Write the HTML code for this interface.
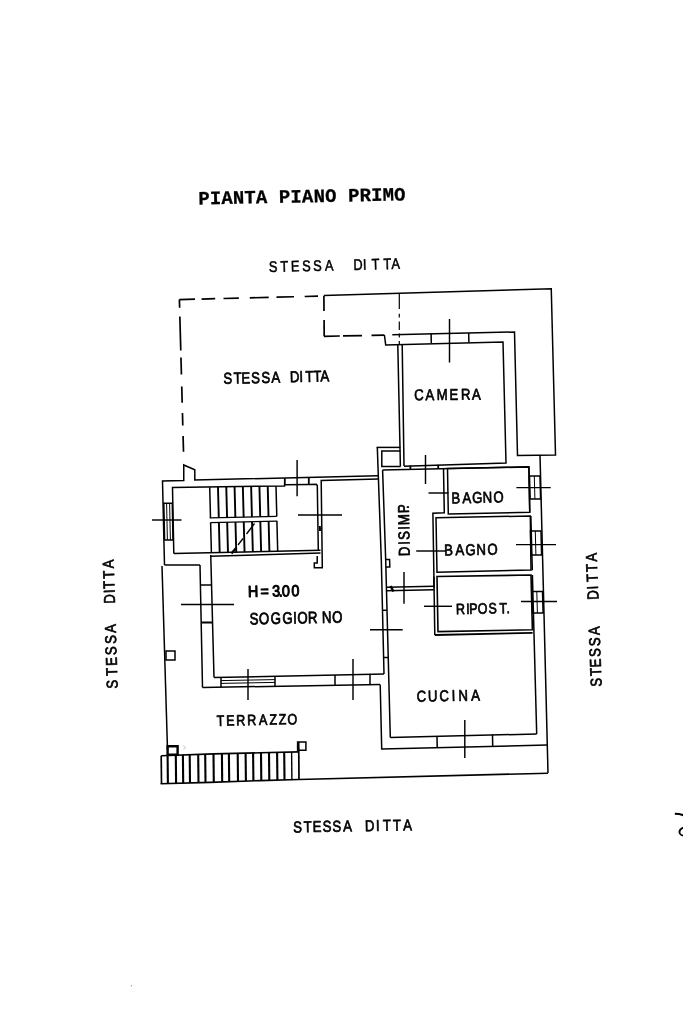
<!DOCTYPE html>
<html lang="it">
<head>
<meta charset="utf-8">
<title>Pianta Piano Primo</title>
<style>
html,body{margin:0;padding:0;background:#fff;}
body{width:683px;height:1024px;overflow:hidden;}
svg{display:block;}
svg text{fill:#000;text-rendering:geometricPrecision;}
svg{will-change:transform;}
</style>
</head>
<body>
<svg width="683" height="1024" viewBox="0 0 683 1024">
<rect width="683" height="1024" fill="#fff"/>
<g stroke="#000" fill="none" stroke-linecap="butt">
<line x1="179.4" y1="299.6" x2="195" y2="299.211" stroke-width="1.7"/>
<line x1="201.6" y1="299.046" x2="215.2" y2="298.707" stroke-width="1.7"/>
<line x1="223.5" y1="298.5" x2="238.8" y2="298.119" stroke-width="1.7"/>
<line x1="249.8" y1="297.844" x2="268.7" y2="297.373" stroke-width="1.7"/>
<line x1="276.5" y1="297.178" x2="294" y2="296.742" stroke-width="1.7"/>
<line x1="304.7" y1="296.475" x2="318" y2="296.143" stroke-width="1.7"/>
<line x1="179.4" y1="299.6" x2="179.621" y2="307.8" stroke-width="1.7"/>
<line x1="179.853" y1="316.4" x2="180.772" y2="350.5" stroke-width="1.7"/>
<line x1="180.961" y1="357.5" x2="181.422" y2="374.6" stroke-width="1.7"/>
<line x1="181.742" y1="386.5" x2="182.179" y2="402.7" stroke-width="1.7"/>
<line x1="182.457" y1="413" x2="182.794" y2="425.5" stroke-width="1.7"/>
<line x1="183.077" y1="436" x2="183.5" y2="451.7" stroke-width="1.7"/>
<line x1="323.9" y1="296" x2="324.012" y2="311" stroke-width="1.7"/>
<line x1="324.079" y1="320" x2="324.2" y2="336.2" stroke-width="1.7"/>
<line x1="324" y1="336.3" x2="339.8" y2="336.012" stroke-width="1.7"/>
<line x1="343" y1="335.954" x2="362" y2="335.608" stroke-width="1.7"/>
<line x1="371.5" y1="335.435" x2="384.4" y2="335.2" stroke-width="1.7"/>
<line x1="399.3" y1="294" x2="399.3" y2="309" stroke-width="1.2"/>
<line x1="399.3" y1="313.8" x2="399.3" y2="317.4" stroke-width="1.2"/>
<line x1="399.3" y1="321.5" x2="399.3" y2="330" stroke-width="1.2"/>
<line x1="399.3" y1="333.5" x2="399.3" y2="337.5" stroke-width="1.2"/>
<line x1="399.3" y1="341" x2="399.3" y2="345" stroke-width="1.2"/>
<path d="M323.75 295.5 L551.25 288.75 L555.5 455 L517.5 455.5 L514.5 332 L392.3 334.8" stroke-width="1.5" fill="none"/>
<path d="M384.4 335 L385.7 345 L503 342 L506 463 L404 466.3" stroke-width="1.5" fill="none"/>
<line x1="397.8" y1="345" x2="400.4" y2="466.5" stroke-width="1.5"/>
<line x1="402.2" y1="345" x2="404" y2="466" stroke-width="1.5"/>
<line x1="431.1" y1="333.5" x2="431.3" y2="343" stroke-width="1.5"/>
<line x1="468.7" y1="333" x2="468.9" y2="342.5" stroke-width="1.5"/>
<line x1="449.5" y1="319" x2="449.5" y2="362.5" stroke-width="1.45"/>
<line x1="376.7" y1="447.4" x2="400.3" y2="447.4" stroke-width="1.5"/>
<path d="M400.3 451.1 L381.8 451.1 L381.8 466.5 L400.5 466.5" stroke-width="1.5" fill="none"/>
<line x1="410.4" y1="465.5" x2="410.4" y2="469.5" stroke-width="1.8"/>
<line x1="438.2" y1="464.8" x2="438.2" y2="468.6" stroke-width="1.8"/>
<line x1="540" y1="455" x2="548" y2="773" stroke-width="1.5"/>
<line x1="528.9" y1="467" x2="529.8" y2="512.5" stroke-width="1.5"/>
<line x1="530.8" y1="516" x2="532.3" y2="570.2" stroke-width="1.5"/>
<line x1="532.4" y1="575" x2="536.7" y2="734" stroke-width="1.5"/>
<path d="M160.6 783.8 L210 782.4 L260 780.6 L298.7 779.5 L548 773.2" stroke-width="1.6" fill="none"/>
<path d="M390.3 737.6 L536.7 733.9" stroke-width="1.5" fill="none"/>
<path d="M380.2 684.4 L381.7 748.9 L547.3 745" stroke-width="1.5" fill="none"/>
<line x1="437" y1="736.3" x2="437.2" y2="747.3" stroke-width="1.5"/>
<line x1="492.5" y1="734.8" x2="492.7" y2="745.9" stroke-width="1.5"/>
<line x1="464.8" y1="720" x2="464.8" y2="758" stroke-width="1.45"/>
<line x1="200" y1="565" x2="202.5" y2="687.5" stroke-width="1.5"/>
<line x1="210.75" y1="555" x2="214" y2="677.5" stroke-width="1.5"/>
<line x1="200.4" y1="585" x2="211.4" y2="585" stroke-width="1.5"/>
<line x1="201.2" y1="622.5" x2="212.4" y2="622.5" stroke-width="2"/>
<line x1="181" y1="604.5" x2="234" y2="604.5" stroke-width="1.45"/>
<line x1="214" y1="677.5" x2="384" y2="674" stroke-width="1.5"/>
<line x1="202.5" y1="687.5" x2="380" y2="684.5" stroke-width="1.5"/>
<line x1="221" y1="677.4" x2="221" y2="687.2" stroke-width="1.5"/>
<line x1="275" y1="676.3" x2="275" y2="686.2" stroke-width="1.5"/>
<line x1="221" y1="680.6" x2="275" y2="679.6" stroke-width="1"/>
<line x1="221" y1="683.4" x2="275" y2="682.4" stroke-width="1"/>
<line x1="248" y1="669" x2="248" y2="700" stroke-width="1.45"/>
<line x1="335" y1="675" x2="335" y2="685.3" stroke-width="1.5"/>
<line x1="370" y1="674.3" x2="370" y2="684.6" stroke-width="1.5"/>
<line x1="353" y1="659" x2="353" y2="700" stroke-width="1.45"/>
<path d="M377.3 447 L381.3 560 L384 674" stroke-width="1.5" fill="none"/>
<path d="M382.6 470.1 L385.7 560 L388.3 660 L390.3 737.4" stroke-width="1.5" fill="none"/>
<line x1="382.5" y1="610.3" x2="387" y2="610.3" stroke-width="1.5"/>
<line x1="383.6" y1="657.5" x2="388.2" y2="657.5" stroke-width="1.5"/>
<line x1="370" y1="629.7" x2="402.7" y2="629.7" stroke-width="1.45"/>
<path d="M164.5 565 L162.5 481 L183.75 480.5 L183.75 465 L194.8 469.8 L194.8 480 L378 475.8" stroke-width="1.5" fill="none"/>
<path d="M173.8 553.6 L172.5 487.5 L284.6 485.9 L284.6 484.8 L309 484.4 L316.2 484.2 L317.3 485.5 L318.3 550.3" stroke-width="1.5" fill="none"/>
<line x1="173.8" y1="553.6" x2="320.5" y2="550.3" stroke-width="1.5"/>
<line x1="210" y1="556.3" x2="320.5" y2="552.9" stroke-width="1.5"/>
<line x1="164.5" y1="565" x2="200" y2="565" stroke-width="1.5"/>
<path d="M378.3 478.9 L321.2 480.6 L322.3 567.8 L314.3 567.8 L314.3 563 L317.2 563 L317.2 556" stroke-width="1.5" fill="none"/>
<line x1="319.8" y1="526" x2="320" y2="531" stroke-width="2"/>
<line x1="209.7" y1="487.2" x2="210.5" y2="517.9" stroke-width="1.5"/>
<line x1="210.6" y1="522.6" x2="211.4" y2="553" stroke-width="1.5"/>
<line x1="217.987" y1="487.067" x2="218.787" y2="517.718" stroke-width="1.9"/>
<line x1="218.887" y1="522.418" x2="219.687" y2="552.801" stroke-width="1.9"/>
<line x1="226.275" y1="486.935" x2="227.075" y2="517.535" stroke-width="1.9"/>
<line x1="227.175" y1="522.235" x2="227.975" y2="552.602" stroke-width="1.9"/>
<line x1="234.562" y1="486.802" x2="235.363" y2="517.353" stroke-width="1.9"/>
<line x1="235.463" y1="522.053" x2="236.262" y2="552.403" stroke-width="1.9"/>
<line x1="242.85" y1="486.67" x2="243.65" y2="517.171" stroke-width="1.9"/>
<line x1="243.75" y1="521.871" x2="244.55" y2="552.204" stroke-width="1.9"/>
<line x1="251.137" y1="486.537" x2="251.938" y2="516.988" stroke-width="1.9"/>
<line x1="252.037" y1="521.688" x2="252.837" y2="552.005" stroke-width="1.9"/>
<line x1="259.425" y1="486.404" x2="260.225" y2="516.806" stroke-width="1.9"/>
<line x1="260.325" y1="521.506" x2="261.125" y2="551.807" stroke-width="1.9"/>
<line x1="267.712" y1="486.272" x2="268.512" y2="516.624" stroke-width="1.9"/>
<line x1="268.612" y1="521.324" x2="269.412" y2="551.608" stroke-width="1.9"/>
<line x1="276" y1="486.139" x2="276.8" y2="516.441" stroke-width="1.5"/>
<line x1="276.9" y1="521.141" x2="277.7" y2="551.409" stroke-width="1.5"/>
<line x1="209.7" y1="517.9" x2="276.6" y2="516.4" stroke-width="1.4"/>
<line x1="210.5" y1="522.6" x2="277.3" y2="521.1" stroke-width="1.4"/>
<line x1="231.5" y1="553.5" x2="236" y2="548" stroke-width="2.2"/>
<line x1="238" y1="545" x2="243" y2="538.5" stroke-width="1.3"/>
<line x1="246.5" y1="534" x2="254.5" y2="523.5" stroke-width="1.3"/>
<path d="M163.8 503.3 L172.3 503.3 L173 540 L164.6 540 Z" stroke-width="1.5" fill="none"/>
<line x1="166.6" y1="503.3" x2="167.4" y2="540" stroke-width="1"/>
<line x1="169.6" y1="503.3" x2="170.4" y2="540" stroke-width="1"/>
<line x1="152" y1="520" x2="181.5" y2="520" stroke-width="1.45"/>
<line x1="284.8" y1="478" x2="284.8" y2="485" stroke-width="1.8"/>
<line x1="308.8" y1="477.5" x2="308.8" y2="484.4" stroke-width="1.8"/>
<line x1="297.1" y1="460" x2="297.1" y2="496.3" stroke-width="1.45"/>
<line x1="298" y1="515" x2="342" y2="515" stroke-width="1.45"/>
<line x1="382.6" y1="470.1" x2="529.5" y2="466.8" stroke-width="1.5"/>
<path d="M443.5 468.5 L444.3 512.8 L432.9 513.2 L434.1 588" stroke-width="1.5" fill="none"/>
<line x1="386.5" y1="587.3" x2="434" y2="586.3" stroke-width="1.6"/>
<line x1="386.5" y1="590.8" x2="434" y2="589.8" stroke-width="1.6"/>
<line x1="390.5" y1="586" x2="393.5" y2="591.5" stroke-width="2.5"/>
<path d="M385.6 559.5 L389.6 559.5 L389.8 567 L385.9 567" stroke-width="1.5" fill="none"/>
<path d="M447.5 468.5 L528.9 467 L529.7 512.2 L448.3 514 Z" stroke-width="1.5" fill="none"/>
<path d="M436 517.7 L530.3 516 L531 570 L437 572.3 Z" stroke-width="1.5" fill="none"/>
<path d="M437 576.5 L531 575 L532.4 629.8 L438 631.6 Z" stroke-width="1.6" fill="none"/>
<line x1="433.9" y1="576.5" x2="434.8" y2="635" stroke-width="1.5"/>
<line x1="434.8" y1="635" x2="532.6" y2="632.9" stroke-width="1.8"/>
<path d="M529.5 476 L540 476 L540.6 499 L530.1 499 Z" stroke-width="1.5" fill="none"/>
<line x1="534.3" y1="476" x2="534.9" y2="499" stroke-width="1"/>
<path d="M530.5 531 L541 531 L541.6 555 L531.1 555 Z" stroke-width="1.5" fill="none"/>
<line x1="535.3" y1="531" x2="535.9" y2="555" stroke-width="1"/>
<path d="M532 591.5 L542.5 591.5 L543.1 613 L532.6 613 Z" stroke-width="1.5" fill="none"/>
<line x1="536.8" y1="591.5" x2="537.4" y2="613" stroke-width="1"/>
<line x1="516.4" y1="487.6" x2="550.7" y2="487.6" stroke-width="1.45"/>
<line x1="516" y1="544.6" x2="556" y2="544.6" stroke-width="1.45"/>
<line x1="521" y1="601.4" x2="557" y2="601.4" stroke-width="1.45"/>
<line x1="425.5" y1="455" x2="425.5" y2="484" stroke-width="1.45"/>
<line x1="428.5" y1="493" x2="448.5" y2="493" stroke-width="1.45"/>
<line x1="416.2" y1="551" x2="446" y2="551" stroke-width="1.45"/>
<line x1="404" y1="572" x2="404" y2="603.7" stroke-width="1.45"/>
<line x1="424" y1="606.3" x2="452" y2="606.3" stroke-width="1.45"/>
<line x1="162" y1="566" x2="167.5" y2="750" stroke-width="1.5"/>
<path d="M166 651 L175 651 L175 660 L166 660 Z" stroke-width="1.5" fill="none"/>
<path d="M167.6 746.2 L177.6 746.2 L177.6 754.8 L167.6 754.8 Z" stroke-width="2.4" fill="none"/>
<path d="M297.6 742.1 L305.9 742.1 L305.9 750.2 L297.6 750.2 Z" stroke-width="1.5" fill="none"/>
<line x1="161.2" y1="755.7" x2="161.5" y2="783.8" stroke-width="1.7"/>
<line x1="167.6" y1="755.48" x2="167.9" y2="783.616" stroke-width="2.1"/>
<line x1="175.8" y1="755.198" x2="176.1" y2="783.381" stroke-width="2.1"/>
<line x1="182.9" y1="754.953" x2="183.2" y2="783.177" stroke-width="2.1"/>
<line x1="189.7" y1="754.719" x2="190" y2="782.982" stroke-width="2.1"/>
<line x1="198.2" y1="754.427" x2="198.5" y2="782.739" stroke-width="2.1"/>
<line x1="205.2" y1="754.186" x2="205.5" y2="782.538" stroke-width="2.1"/>
<line x1="213.5" y1="753.9" x2="213.8" y2="782.274" stroke-width="2.1"/>
<line x1="221.9" y1="753.701" x2="222.2" y2="781.972" stroke-width="2.1"/>
<line x1="228.9" y1="753.536" x2="229.2" y2="781.72" stroke-width="2.1"/>
<line x1="237.7" y1="753.328" x2="238" y2="781.403" stroke-width="2.1"/>
<line x1="245.6" y1="753.141" x2="245.9" y2="781.118" stroke-width="2.1"/>
<line x1="253.1" y1="752.963" x2="253.4" y2="780.848" stroke-width="2.1"/>
<line x1="261" y1="752.777" x2="261.3" y2="780.572" stroke-width="2.1"/>
<line x1="269" y1="752.591" x2="269.3" y2="780.344" stroke-width="2.1"/>
<line x1="277.1" y1="752.402" x2="277.4" y2="780.114" stroke-width="2.1"/>
<line x1="284.2" y1="752.237" x2="284.5" y2="779.912" stroke-width="2.1"/>
<line x1="291.6" y1="752.065" x2="291.9" y2="779.702" stroke-width="1.4"/>
<line x1="298.7" y1="742" x2="299" y2="779.5" stroke-width="1.7"/>
<path d="M161.2 755.7 L213.5 753.9 L260 752.8 L298.7 751.9" stroke-width="1.6" fill="none"/>
<path d="M183.3 745.6 L185.6 747.5 L183.7 749.6" stroke="#9a9a9a" stroke-width="0.6"/>
<path d="M674.8 813.7 Q679.5 813.7 683.5 815.3" stroke-width="2"/>
<path d="M683.5 827.6 Q678.3 830 679.8 833.3 Q680.8 835.3 683.5 835.8" stroke-width="1.8"/>
<circle cx="131.5" cy="985.7" r="0.7" fill="#999" stroke="none"/>
</g>
<g>
<text transform="translate(198.4 204.4) rotate(-1.1)" font-family='"Liberation Mono", monospace' font-size="18.9" font-weight="bold" textLength="207.3" lengthAdjust="spacing" stroke="#000" stroke-width="0.3" stroke-linejoin="round">PIANTA PIANO PRIMO</text>
<text transform="translate(273.3 272) rotate(-1.4) scale(0.84 1)" x="-5.10 8.55 21.04 34.55 47.65 61.70 71.91 95.56 106.95 117.16 131.21 140.77" y="0" font-family='"Liberation Sans", sans-serif' font-size="15.3" stroke="#000" stroke-width="0.5" stroke-linejoin="round">STESSA DITTA</text>
<text transform="translate(227.9 383.7) rotate(-1.3) scale(0.84 1)" x="-5.24 6.88 16.25 27.75 40.01 52.04 62.51 73.97 85.22 92.38 101.91 110.27" y="0" font-family='"Liberation Sans", sans-serif' font-size="15.7" stroke="#000" stroke-width="0.7" stroke-linejoin="round">STESSA DITTA</text>
<text transform="translate(419 400.3) rotate(-0.7) scale(0.84 1)" x="-5.77 7.74 21.08 36.37 49.90 63.22" y="0" font-family='"Liberation Sans", sans-serif' font-size="15.7" stroke="#000" stroke-width="0.7" stroke-linejoin="round">CAMERA</text>
<text transform="translate(456.2 503.3) rotate(-1.2) scale(0.84 1)" x="-5.46 7.50 19.09 31.48 44.39" y="0" font-family='"Liberation Sans", sans-serif' font-size="15.7" stroke="#000" stroke-width="0.7" stroke-linejoin="round">BAGNO</text>
<text transform="translate(448.8 555.5) rotate(-1.2) scale(0.84 1)" x="-5.46 7.98 19.93 33.02 45.94" y="0" font-family='"Liberation Sans", sans-serif' font-size="15.7" stroke="#000" stroke-width="0.7" stroke-linejoin="round">BAGNO</text>
<text transform="translate(409.7 551) rotate(-91.2) scale(0.84 1)" x="-5.93 7.58 13.46 25.20 30.97 45.26 49.97" y="0" font-family='"Liberation Sans", sans-serif' font-size="15.7" stroke="#000" stroke-width="0.7" stroke-linejoin="round">DISIMP.</text>
<text transform="translate(460.7 614.2) rotate(-1.2) scale(0.84 1)" x="-5.68 6.49 10.26 20.25 33.22 46.15 54.59" y="0" font-family='"Liberation Sans", sans-serif' font-size="15" stroke="#000" stroke-width="0.7" stroke-linejoin="round">RIPOST.</text>
<text transform="translate(253.2 597) rotate(-1.2) scale(0.9 1)" x="-5.78 8.22 21.05 28.34 32.12 42.67" y="0" font-family='"Liberation Sans", sans-serif' font-size="16" stroke="#000" stroke-width="1" stroke-linejoin="round">H=3.00</text>
<text transform="translate(254.2 624.3) rotate(-1.2) scale(0.8 1)" x="-5.50 6.09 20.67 35.30 48.97 54.10 67.40 84.93 97.49" y="0" font-family='"Liberation Sans", sans-serif' font-size="16.5" stroke="#000" stroke-width="0.8" stroke-linejoin="round">SOGGIORNO</text>
<text transform="translate(421.7 701.7) rotate(-1.2) scale(0.84 1)" x="-5.77 7.55 21.14 35.80 43.86 58.94" y="0" font-family='"Liberation Sans", sans-serif' font-size="15.7" stroke="#000" stroke-width="0.7" stroke-linejoin="round">CUCINA</text>
<text transform="translate(220.7 725.8) rotate(-1.2) scale(0.84 1)" x="-4.58 6.49 18.38 31.59 45.72 58.04 69.12 79.67" y="0" font-family='"Liberation Sans", sans-serif' font-size="15" stroke="#000" stroke-width="0.7" stroke-linejoin="round">TERRAZZO</text>
<text transform="translate(297.7 832.3) rotate(-1) scale(0.84 1)" x="-5.24 7.24 17.91 29.89 41.44 54.18 64.65 80.15 93.19 101.54 113.56 125.62" y="0" font-family='"Liberation Sans", sans-serif' font-size="15.7" stroke="#000" stroke-width="0.7" stroke-linejoin="round">STESSA DITTA</text>
<text transform="translate(117.5 684) rotate(-91.8) scale(0.84 1)" x="-5.24 9.98 21.61 34.66 47.89 61.11 71.58 95.90 108.47 113.60 125.63 137.93" y="0" font-family='"Liberation Sans", sans-serif' font-size="15.7" stroke="#000" stroke-width="0.7" stroke-linejoin="round">STESSA DITTA</text>
<text transform="translate(601.6 682.2) rotate(-92.2) scale(0.84 1)" x="-5.24 7.60 17.93 30.39 43.13 56.36 66.83 98.55 110.76 119.71 131.62 143.92" y="0" font-family='"Liberation Sans", sans-serif' font-size="15.7" stroke="#000" stroke-width="0.7" stroke-linejoin="round">STESSA DITTA</text>
</g>
</svg>
</body>
</html>
